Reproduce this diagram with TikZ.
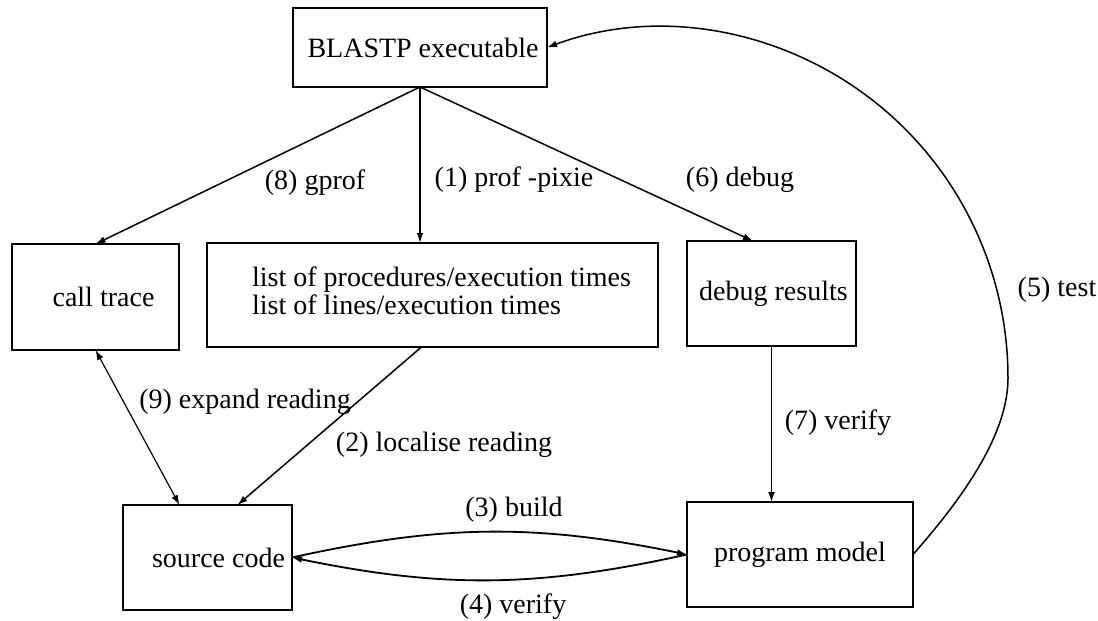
\documentclass[tikz,border=0pt]{standalone}
\usepackage{fontspec}
\setmainfont{Liberation Serif}
\usetikzlibrary{arrows.meta,calc}
\begin{document}
\begin{tikzpicture}[x=0.5pt,y=-0.5pt,
  font=\fontsize{14}{13.5}\selectfont,
  box/.style={draw,line width=0.9pt,inner sep=0pt,outer sep=0pt},
  conn/.style={line width=0.75pt,-{Latex[length=5pt,width=3.4pt]}},
  lbl/.style={inner sep=0pt,anchor=center}]
\useasboundingbox (0,0) rectangle (1098,621);
% boxes
\node[box,minimum width=127pt,minimum height=39.5pt] (blastp) at (420,47.5) {\hspace*{3pt}BLASTP executable};
\node[box,minimum width=83.5pt,minimum height=53pt] (ct) at (95.5,297) {\hspace*{8pt}call trace};
\node[box,minimum width=225.5pt,minimum height=52pt] (list) at (432.5,295)
  {\hspace*{9pt}\raisebox{-3.5pt}{\begin{tabular}{@{}l@{}}list of procedures/execution times\\list of lines/execution times\end{tabular}}};
\node[box,minimum width=84.5pt,minimum height=52.5pt] (dbg) at (771.5,293.5) {\hspace*{2pt}debug results};
\node[box,minimum width=84.5pt,minimum height=52.5pt] (src) at (207.5,557.5) {\hspace*{11pt}source code};
\node[box,minimum width=113pt,minimum height=52.5pt] (prog) at (800,554.5) {program model};
% connectors
\draw[conn] (blastp.south) -- (ct.north);
\draw[conn] (blastp.south) -- (blastp.south |- list.north);
\draw[conn] (blastp.south) -- ($(dbg.north)+(-18.5,0)$);
\draw[line width=0.6pt,{Latex[length=5pt,width=3.4pt]}-{Latex[length=5pt,width=3.4pt]}] (ct.south) -- ($(src.north)+(-28,0)$);
\draw[conn] ($(list.south)+(-11,0)$) -- ($(src.north)+(30,0)$);
\draw[line width=0.6pt,-{Latex[length=5pt,width=3.4pt]}] (dbg.south) -- (dbg.south |- prog.north);
\draw[conn,line width=0.9pt] (src.east) to[bend left=12] (prog.west);
\draw[conn,line width=0.9pt] (prog.west) to[bend left=12] (src.east);
\draw[conn] (prog.east) .. controls (970,490) and (1008,430) .. (1008,378)
  .. controls (1008,265) and (954,159) .. (863,93)
  .. controls (772,27) and (654,8) .. (blastp.east);
% labels
\node[lbl] (l8) at (315,183) {(8) gprof};
\node[lbl] (l1) at (514,180) {(1) prof -pixie};
\node[lbl] (l6) at (740,180) {(6) debug};
\node[lbl] (l9) at (245,402) {(9) expand reading};
\node[lbl] (l2) at (444,445) {(2) localise reading};
\node[lbl] (l7) at (838,423) {(7) verify};
\node[lbl] (l3) at (514,510) {(3) build};
\node[lbl] (l4) at (513,607) {(4) verify};
\node[lbl] (l5) at (1057,290) {(5) test};
\end{tikzpicture}
\end{document}
